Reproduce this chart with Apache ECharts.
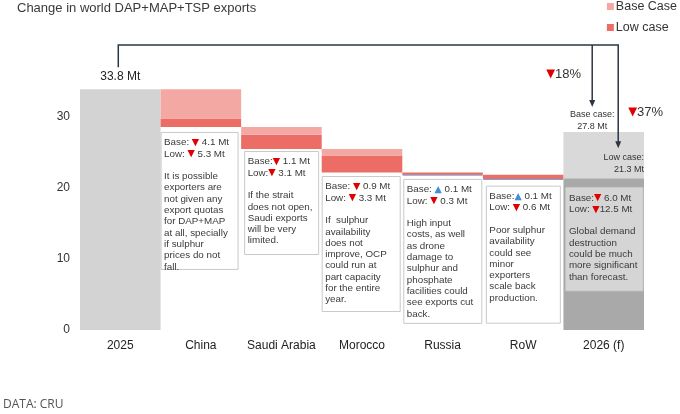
<!DOCTYPE html>
<html>
<head>
<meta charset="utf-8">
<script src="https://cdn.jsdelivr.net/npm/echarts@6/dist/echarts.min.js"></script>
<style>
  html, body { margin: 0; padding: 0; background: #fff; }
  #chart { width: 680px; height: 414px; }
</style>
</head>
<body>
<div id="chart"></div>
<script>
// data
var categories = ['2025', 'China', 'Saudi Arabia', 'Morocco', 'Russia', 'RoW', '2026 (f)'];
var start2025 = 33.8;
var baseChange = [-4.1, -1.1, -0.9, 0.1, 0.1];
var lowChange = [-5.3, -3.1, -3.3, -0.3, -0.6];
var end2026Base = 27.8;
var end2026Low = 21.3;
var change2026Base = -6.0;
var change2026Low = -12.5;
var pctBase = -18;
var pctLow = -37;
var yTicks = [0, 10, 20, 30];
var noteTexts = [
  ['It is possible', 'exporters are', 'not given any', 'export quotas', 'for DAP+MAP', 'at all, specially', 'if sulphur', 'prices do not', 'fall.'],
  ['If the strait', 'does not open,', 'Saudi exports', 'will be very', 'limited.'],
  ['If  sulphur', 'availability', 'does not', 'improve, OCP', 'could run at', 'part capacity', 'for the entire', 'year.'],
  ['High input', 'costs, as well', 'as drone', 'damage to', 'sulphur and', 'phosphate', 'facilities could', 'see exports cut', 'back.'],
  ['Poor sulphur', 'availability', 'could see', 'minor', 'exporters', 'scale back', 'production.'],
  ['Global demand', 'destruction', 'could be much', 'more significant', 'than forecast.']
];

var C_BASE = '#f4a8a4';
var C_LOW = '#ec6c66';
var C_UP = '#6fa8dc';
var C_DOWN = '#e00000';
var FONT = '"Liberation Sans", Arial, sans-serif';

function r1(v) { return Math.round(v * 10) / 10; }

// waterfall pieces, stacked bottom to top
var helper = [0], totalDark = ['-'], totalLight = [start2025], blue = ['-'], dark = ['-'], light = ['-'];
var level = start2025;
var bottoms = [];
for (var i = 0; i < baseChange.length; i++) {
  var b = baseChange[i], l = lowChange[i];
  var lowEnd = r1(level + l);
  if (b < 0) {
    helper.push(lowEnd);
    blue.push('-');
    dark.push(r1(b - l));
    light.push(r1(-b));
    bottoms.push(lowEnd);
  } else {
    helper.push(r1(lowEnd - b));
    blue.push(b);
    dark.push(r1(-l));
    light.push('-');
    bottoms.push(r1(lowEnd - b));
  }
  totalDark.push('-');
  totalLight.push('-');
  level = lowEnd;
}
helper.push(0);
totalDark.push(end2026Low);
totalLight.push(r1(end2026Base - end2026Low));
blue.push('-'); dark.push('-'); light.push('-');
bottoms.push(end2026Low);

var myChart = echarts.init(document.getElementById('chart'));

var option = {
  animation: false,
  textStyle: { fontFamily: FONT },
  title: [{
    text: 'Change in world DAP+MAP+TSP exports',
    left: 17, top: 2, padding: 0,
    textStyle: { fontSize: 13, fontWeight: 'normal', color: '#3a3a3a' }
  }],
  legend: {
    data: ['Base Case', 'Low case'],
    orient: 'vertical',
    right: 3, top: 0, padding: 0,
    icon: 'rect', itemWidth: 7, itemHeight: 7, itemGap: 8,
    textStyle: { fontSize: 12.5, color: '#333', padding: [0, 0, 0, -3] }
  },
  grid: { left: 80, right: 36, top: 45, bottom: 84 },
  xAxis: {
    type: 'category',
    data: categories,
    axisLine: { show: false },
    axisTick: { show: false },
    axisLabel: { interval: 0, fontSize: 12, color: '#222', margin: 10 }
  },
  yAxis: {
    type: 'value',
    min: 0, max: 40, interval: 10,
    splitLine: { show: false },
    axisLine: { show: false },
    axisTick: { show: false },
    axisLabel: {
      fontSize: 12, color: '#333', margin: 10,
      formatter: function (v) { return yTicks.indexOf(v) >= 0 ? String(v) : ''; }
    }
  },
  series: [
    { name: 'helper', type: 'bar', stack: 'w', barCategoryGap: '0%', silent: true,
      itemStyle: { color: 'transparent' }, data: helper },
    { name: 'totalDark', type: 'bar', stack: 'w', barCategoryGap: '0%',
      itemStyle: { color: '#a9a9a9' }, data: totalDark },
    { name: 'totalLight', type: 'bar', stack: 'w', barCategoryGap: '0%',
      data: totalLight.map(function (v, k) {
        if (k === 0) {
          return { value: v, itemStyle: { color: '#d3d3d3' },
            label: { show: true, position: 'top', distance: 6, fontSize: 12, color: '#222',
              formatter: start2025.toFixed(1) + ' Mt' } };
        }
        return { value: v, itemStyle: { color: '#d9d9d9' } };
      }) },
    { name: 'up', type: 'bar', stack: 'w', barCategoryGap: '0%',
      itemStyle: { color: C_UP, borderColor: C_UP, borderWidth: 1.4 }, data: blue },
    { name: 'Low case', type: 'bar', stack: 'w', barCategoryGap: '0%',
      itemStyle: { color: C_LOW }, data: dark },
    { name: 'Base Case', type: 'bar', stack: 'w', barCategoryGap: '0%',
      itemStyle: { color: C_BASE }, data: light }
  ]
};
myChart.setOption(option);

// annotations placed from the axes
function px(cat, val) { return myChart.convertToPixel({ xAxisIndex: 0, yAxisIndex: 0 }, [cat, val]); }
var band = px(1, 0)[0] - px(0, 0)[0];
var g = [];

function arrow(value) {
  return value < 0 ? '{d|▼}' : '{u|▲}';
}
function fmt(v) { return Math.abs(v).toFixed(1) + ' Mt'; }

var boxLayout = [
  { dx: 0, gap: 5, w: 77, h: 137, bs: ' ', ls: ' ' },
  { dx: 3, gap: 2, w: 74, h: 103, bs: '', ls: '' },
  { dx: 0, gap: 3.5, w: 78, h: 135, bs: ' ', ls: ' ' },
  { dx: 1, gap: 3.5, w: 78, h: 144, bs: ' ', ls: ' ' },
  { dx: 3, gap: 6, w: 74, h: 137, bs: '', ls: ' ' },
  { dx: 2, gap: 9, w: 77, h: 103, bs: '', ls: ' ' }
];
var allBase = baseChange.concat([change2026Base]);
var allLow = lowChange.concat([change2026Low]);
var richBox = {
  d: { fill: C_DOWN, fontFamily: '"DejaVu Sans"', fontSize: 9.5, lineHeight: 11.3 },
  u: { fill: '#3d8fd8', fontFamily: '"DejaVu Sans"', fontSize: 9.5, lineHeight: 11.3 }
};
boxLayout.forEach(function (bl, k) {
  var cat = k + 1;
  var left = px(cat, 0)[0] - band / 2 + bl.dx;
  var top = px(cat, bottoms[k])[1] + bl.gap;
  var isLast = k === boxLayout.length - 1;
  g.push({
    type: 'rect', z: 10,
    shape: { x: left + 0.5, y: top + 0.5, width: bl.w, height: bl.h },
    style: { fill: isLast ? '#d5d5d5' : '#fff', stroke: isLast ? '#cfcfcf' : '#c9c9c9', lineWidth: 1 }
  });
  var lines = [
    'Base:' + bl.bs + arrow(allBase[k]) + ' ' + fmt(allBase[k]),
    'Low:' + bl.ls + arrow(allLow[k]) + (isLast ? '' : ' ') + fmt(allLow[k]),
    ''
  ].concat(noteTexts[k]);
  g.push({
    type: 'text', z: 11,
    x: left + 3.5, y: top + 5,
    style: {
      text: lines.join('\n'),
      fontSize: 9.8, lineHeight: 11.3, fontFamily: FONT,
      fill: '#3a3a3a', verticalAlign: 'top', rich: richBox
    }
  });
});

// connector lines and arrows
var c2025 = px(0, 0)[0];
var c2026 = px(6, 0)[0];
var lineY = px(0, 40)[1];
var xBase = c2026 - 11.5;
var xLow = c2026 + 14.5;
var tipBase = px(6, end2026Base)[1] - 25;
var tipLow = px(6, end2026Low)[1] - 30;
var LINE = '#2b3645';
g.push({
  type: 'polyline', z: 12,
  shape: { points: [[c2025 - 2, px(0, start2025)[1] - 22], [c2025 - 2, lineY], [xLow, lineY], [xLow, tipLow - 6]] },
  style: { stroke: LINE, lineWidth: 1.5, fill: null }
});
g.push({
  type: 'polyline', z: 12,
  shape: { points: [[xBase, lineY], [xBase, tipBase - 6]] },
  style: { stroke: LINE, lineWidth: 1.5, fill: null }
});
[[xBase, tipBase], [xLow, tipLow]].forEach(function (t) {
  g.push({
    type: 'polygon', z: 12,
    shape: { points: [[t[0] - 3, t[1] - 7], [t[0] + 3, t[1] - 7], [t[0], t[1]]] },
    style: { fill: LINE }
  });
});

var richPct = { d: { fill: C_DOWN, fontFamily: '"DejaVu Sans"', fontSize: 11.5 } };
g.push({
  type: 'text', z: 12, x: xBase - 46, y: 74,
  style: { text: '{d|▼}' + Math.abs(pctBase) + '%', fontSize: 13, fontFamily: FONT, fill: '#333',
    verticalAlign: 'middle', rich: richPct }
});
g.push({
  type: 'text', z: 12, x: xLow + 10, y: 112,
  style: { text: '{d|▼}' + Math.abs(pctLow) + '%', fontSize: 13, fontFamily: FONT, fill: '#333',
    verticalAlign: 'middle', rich: richPct }
});
g.push({
  type: 'text', z: 12, x: xBase, y: tipBase + 2,
  style: { text: 'Base case:\n' + end2026Base.toFixed(1) + ' Mt', fontSize: 9, lineHeight: 12,
    fontFamily: FONT, fill: '#333', align: 'center', verticalAlign: 'top' }
});
g.push({
  type: 'text', z: 12, x: px(6, 0)[0] + band / 2, y: tipLow + 3,
  style: { text: 'Low case:\n' + end2026Low.toFixed(1) + ' Mt', fontSize: 9, lineHeight: 12,
    fontFamily: FONT, fill: '#333', align: 'right', verticalAlign: 'top' }
});
g.push({
  type: 'text', x: 3, y: 405,
  style: { text: 'DATA: CRU', fontSize: 12, fontFamily: '"Open Sans", sans-serif', fill: '#555',
    verticalAlign: 'middle' }
});

myChart.setOption({ graphic: g });
</script>
</body>
</html>
